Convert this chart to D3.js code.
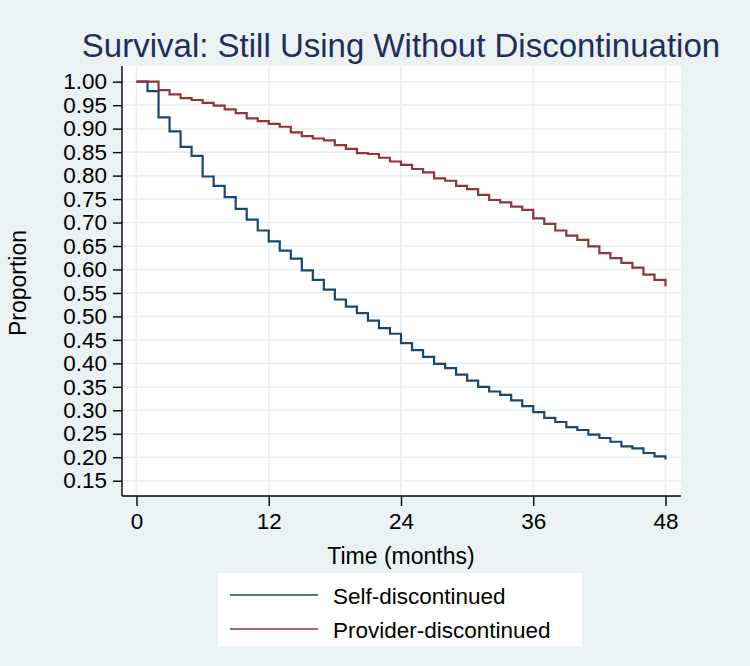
<!DOCTYPE html>
<html lang="en">

<head>
    <meta charset="UTF-8">
    <script src="https://d3js.org/d3.v7.min.js"></script>
    <title>Survival chart</title>
    <style>
        body { margin: 0; background: #eaf2f3; }
        text { font-family: "Liberation Sans", Arial, sans-serif; }
    </style>
</head>

<body>
    <div id="chart"></div>
    <script>
        // Data, one value per month 0..48
        const months = d3.range(0, 49);
        const selfDisc = [1.000, 0.980, 0.924, 0.894, 0.861, 0.842, 0.798, 0.778, 0.754, 0.729,
            0.706, 0.683, 0.660, 0.640, 0.623, 0.598, 0.578, 0.557, 0.536, 0.521,
            0.507, 0.491, 0.475, 0.463, 0.443, 0.428, 0.414, 0.399, 0.390, 0.376,
            0.363, 0.350, 0.340, 0.333, 0.321, 0.309, 0.296, 0.284, 0.275, 0.264,
            0.258, 0.248, 0.241, 0.233, 0.223, 0.219, 0.209, 0.202, 0.195];
        const providerDisc = [1.000, 1.000, 0.982, 0.973, 0.965, 0.961, 0.955, 0.949, 0.941, 0.933,
            0.922, 0.916, 0.910, 0.904, 0.892, 0.884, 0.879, 0.875, 0.865, 0.857,
            0.848, 0.846, 0.838, 0.830, 0.823, 0.814, 0.807, 0.794, 0.789, 0.778,
            0.771, 0.759, 0.748, 0.743, 0.734, 0.727, 0.709, 0.697, 0.683, 0.672,
            0.663, 0.649, 0.635, 0.624, 0.614, 0.604, 0.589, 0.578, 0.564];
        const seriesNames = ["Self-discontinued", "Provider-discontinued"];
        const seriesColors = ["#1a476f", "#90353b"];
        const xTicks = [0, 12, 24, 36, 48];
        const yTicks = d3.range(15, 101, 5).map(d => d / 100);

        const width = 750;
        const height = 666;

        // plot region box
        const plot = { left: 122, right: 681, top: 66, bottom: 496 };

        const svg = d3.select("#chart")
            .append("svg")
            .attr("width", width)
            .attr("height", height);

        svg.append("rect")
            .attr("width", width)
            .attr("height", height)
            .attr("fill", "#eaf2f3");

        svg.append("rect")
            .attr("x", plot.left)
            .attr("y", plot.top)
            .attr("width", plot.right - plot.left)
            .attr("height", plot.bottom - plot.top)
            .attr("fill", "#ffffff");

        // Scales
        const x = d3.scaleLinear().domain([0, 48]).range([136.5, 665.5]);
        const y = d3.scaleLinear().domain([0.15, 1]).range([480.7, 81.7]);

        // Grid
        svg.append("g")
            .selectAll("line")
            .data(yTicks)
            .join("line")
            .attr("x1", plot.left)
            .attr("x2", plot.right)
            .attr("y1", d => y(d))
            .attr("y2", d => y(d))
            .attr("stroke", "#e6eff1")
            .attr("stroke-width", 1.6);

        svg.append("g")
            .selectAll("line")
            .data(xTicks)
            .join("line")
            .attr("x1", d => x(d))
            .attr("x2", d => x(d))
            .attr("y1", plot.top)
            .attr("y2", plot.bottom)
            .attr("stroke", "#e6eff1")
            .attr("stroke-width", 1.6);

        // Step lines
        const line = d3.line()
            .x((d, i) => x(months[i]))
            .y(d => y(d))
            .curve(d3.curveStepAfter);

        [selfDisc, providerDisc].forEach((s, i) => {
            svg.append("path")
                .datum(s)
                .attr("d", line)
                .attr("fill", "none")
                .attr("stroke", seriesColors[i])
                .attr("stroke-width", 2.2);
        });

        // Axes
        const yAxis = svg.append("g")
            .attr("transform", `translate(${plot.left},0)`)
            .call(d3.axisLeft(y).tickValues(yTicks).tickFormat(d3.format(".2f"))
                .tickSize(9).tickPadding(6).tickSizeOuter(0));
        yAxis.select(".domain").remove();
        yAxis.selectAll("line").attr("stroke", "#000").attr("stroke-width", 1.4);
        yAxis.selectAll("text").attr("font-size", 22.5).attr("fill", "#000")
            .attr("font-family", "Liberation Sans, Arial, sans-serif");

        const xAxis = svg.append("g")
            .attr("transform", `translate(0,${plot.bottom})`)
            .call(d3.axisBottom(x).tickValues(xTicks).tickFormat(d3.format("d"))
                .tickSize(10).tickPadding(7).tickSizeOuter(0));
        xAxis.select(".domain").remove();
        xAxis.selectAll("line").attr("stroke", "#000").attr("stroke-width", 1.4);
        xAxis.selectAll("text").attr("font-size", 22.5).attr("fill", "#000")
            .attr("font-family", "Liberation Sans, Arial, sans-serif");

        svg.append("line")
            .attr("x1", plot.left).attr("x2", plot.left)
            .attr("y1", plot.top).attr("y2", plot.bottom)
            .attr("stroke", "#000").attr("stroke-width", 1.4);
        svg.append("line")
            .attr("x1", plot.left).attr("x2", plot.right)
            .attr("y1", plot.bottom).attr("y2", plot.bottom)
            .attr("stroke", "#000").attr("stroke-width", 1.4);

        // Titles
        svg.append("text")
            .attr("x", 401)
            .attr("y", 57)
            .attr("text-anchor", "middle")
            .attr("font-size", 33)
            .attr("fill", "#1e2f5c")
            .text("Survival: Still Using Without Discontinuation");

        svg.append("text")
            .attr("x", 401)
            .attr("y", 564)
            .attr("text-anchor", "middle")
            .attr("font-size", 23)
            .attr("fill", "#000")
            .text("Time (months)");

        svg.append("text")
            .attr("transform", "translate(26,283) rotate(-90)")
            .attr("text-anchor", "middle")
            .attr("font-size", 23)
            .attr("fill", "#000")
            .text("Proportion");

        // Legend
        const legend = svg.append("g");
        legend.append("rect")
            .attr("x", 218)
            .attr("y", 573)
            .attr("width", 364)
            .attr("height", 73)
            .attr("fill", "#ffffff");

        const items = legend.selectAll("g.item")
            .data(seriesNames)
            .join("g")
            .attr("class", "item")
            .attr("transform", (d, i) => `translate(0,${595 + i * 34})`);

        items.append("line")
            .attr("x1", 230)
            .attr("x2", 318)
            .attr("stroke", (d, i) => seriesColors[i])
            .attr("stroke-width", 1.6);

        items.append("text")
            .attr("x", 333)
            .attr("y", 9)
            .attr("font-size", 22.5)
            .attr("fill", "#000")
            .text(d => d);
    </script>
</body>

</html>
